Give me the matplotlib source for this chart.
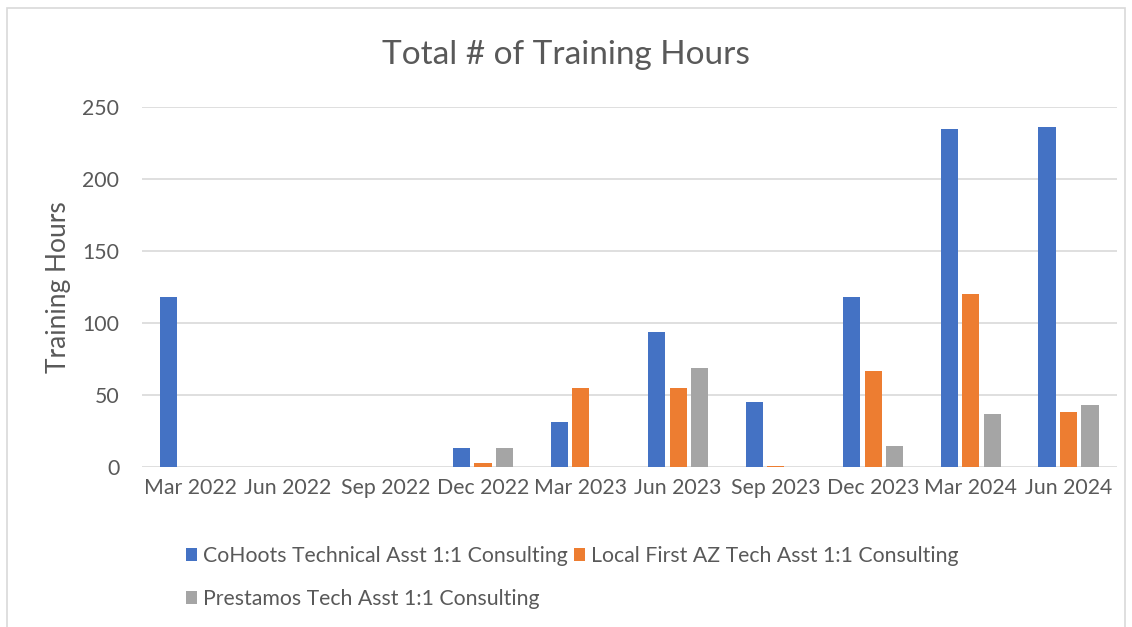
import matplotlib.pyplot as plt
import numpy as np
from matplotlib.patches import Rectangle

plt.rcParams['font.family'] = ['Lato', 'DejaVu Sans']

quarters = ['Mar 2022', 'Jun 2022', 'Sep 2022', 'Dec 2022', 'Mar 2023',
            'Jun 2023', 'Sep 2023', 'Dec 2023', 'Mar 2024', 'Jun 2024']
cohoots = [118, 0, 0, 13, 31, 94, 45, 118, 235, 236]
local_first = [0, 0, 0, 3, 55, 55, 1, 67, 120, 38]
prestamos = [0, 0, 0, 13, 0, 69, 0, 15, 37, 43]

series_names = ['CoHoots Technical Asst 1:1 Consulting',
                'Local First AZ Tech Asst 1:1 Consulting',
                'Prestamos Tech Asst 1:1 Consulting']
colors = ['#4472C4', '#ED7D31', '#A5A5A5']

text_color = '#595959'

fig = plt.figure(figsize=(11.32, 6.27), dpi=100)
ax = fig.add_axes([0.125, 0.255, 0.862, 0.574])

x = np.arange(len(quarters))
step = 0.22
width = 0.175
bars = []
for i, (vals, name, c) in enumerate(zip([cohoots, local_first, prestamos], series_names, colors)):
    bars.append(ax.bar(x + (i - 1) * step, vals, width, color=c, label=name, zorder=3))

ax.set_xlim(-0.5, len(quarters) - 0.5)
ax.set_ylim(0, 250)
ax.set_yticks(range(0, 251, 50))
ax.set_xticks(x)
ax.set_xticklabels(quarters)
ax.tick_params(length=0, labelsize=15.3, colors=text_color)
ax.tick_params(axis='x', pad=8)
ax.tick_params(axis='y', pad=16)
ax.grid(axis='y', color='#D9D9D9', linewidth=1.2, zorder=0)
for s in ax.spines.values():
    s.set_visible(False)

ax.set_ylabel('Training Hours', fontsize=19, color=text_color, labelpad=8)
fig.text(0.5, 0.913, 'Total # of Training Hours', ha='center', va='center',
         fontsize=24, color=text_color)

# row-wise legend order: first row CoHoots, Local First; second row Prestamos
order = [0, 2, 1]
leg = fig.legend([bars[k] for k in order], [series_names[k] for k in order],
                 loc='upper left', bbox_to_anchor=(0.147, 0.16), ncol=2,
                 frameon=False, fontsize=15.3, handlelength=0.55, handleheight=0.6,
                 handletextpad=0.25, columnspacing=0.3, labelspacing=1.1,
                 labelcolor=text_color)

fig.patches.append(Rectangle((0.006, -0.01), 0.988, 0.998, transform=fig.transFigure,
                             fill=False, edgecolor='#D9D9D9', linewidth=1.2))

fig.savefig('out.png', dpi=100)
